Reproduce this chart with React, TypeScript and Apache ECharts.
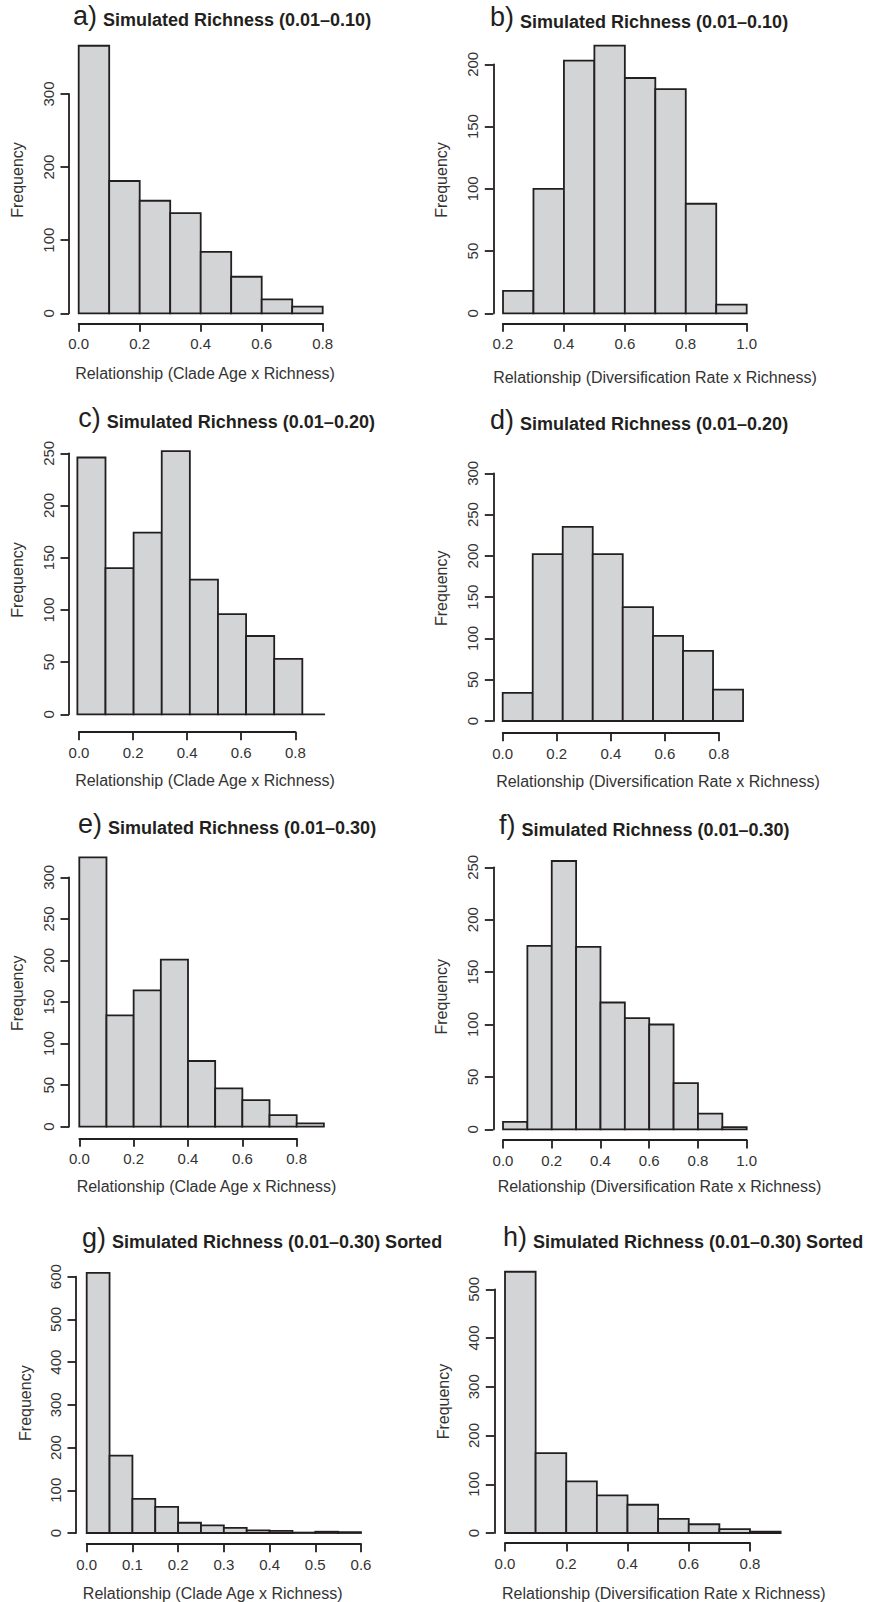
import React, { useEffect, useRef } from "react";
import * as echarts from "echarts";

// ---------- DATA (bin edges and counts) ----------
const EDGES_A = [0, 0.1, 0.2, 0.3, 0.4, 0.5, 0.6, 0.7, 0.8];
const COUNTS_A = [366, 181, 154, 137, 84, 50, 19, 9];

const EDGES_B = [0.2, 0.3, 0.4, 0.5, 0.6, 0.7, 0.8, 0.9, 1.0];
const COUNTS_B = [18, 100, 203, 215, 189, 180, 88, 7];

const EDGES_C = [-0.006, 0.098, 0.202, 0.306, 0.41, 0.514, 0.618, 0.722, 0.826, 0.91];
const COUNTS_C = [246, 140, 174, 252, 129, 96, 75, 53, 0];

const EDGES_D = [0, 0.111, 0.222, 0.333, 0.444, 0.556, 0.667, 0.778, 0.889];
const COUNTS_D = [34, 202, 235, 202, 138, 103, 85, 38];

const EDGES_E = [0, 0.1, 0.2, 0.3, 0.4, 0.5, 0.6, 0.7, 0.8, 0.9];
const COUNTS_E = [324, 134, 164, 201, 79, 46, 32, 14, 4];

const EDGES_F = [0, 0.1, 0.2, 0.3, 0.4, 0.5, 0.6, 0.7, 0.8, 0.9, 1.0];
const COUNTS_F = [7, 175, 256, 174, 121, 106, 100, 44, 15, 2];

const EDGES_G = [0, 0.05, 0.1, 0.15, 0.2, 0.25, 0.3, 0.35, 0.4, 0.45, 0.5, 0.55, 0.6];
const COUNTS_G = [609, 181, 80, 61, 24, 18, 12, 6, 5, 1, 3, 2];

const EDGES_H = [0, 0.1, 0.2, 0.3, 0.4, 0.5, 0.6, 0.7, 0.8, 0.9];
const COUNTS_H = [536, 164, 106, 77, 58, 29, 18, 8, 3];

const LETTERS = ["a", "b", "c", "d", "e", "f", "g", "h"];
const TITLES = [
  "Simulated Richness (0.01\u20130.10)",
  "Simulated Richness (0.01\u20130.10)",
  "Simulated Richness (0.01\u20130.20)",
  "Simulated Richness (0.01\u20130.20)",
  "Simulated Richness (0.01\u20130.30)",
  "Simulated Richness (0.01\u20130.30)",
  "Simulated Richness (0.01\u20130.30) Sorted",
  "Simulated Richness (0.01\u20130.30) Sorted",
];
const X_NAME_AGE = "Relationship (Clade Age x Richness)";
const X_NAME_DIV = "Relationship (Diversification Rate x Richness)";
const X_NAMES = [X_NAME_AGE, X_NAME_DIV, X_NAME_AGE, X_NAME_DIV, X_NAME_AGE, X_NAME_DIV, X_NAME_AGE, X_NAME_DIV];
const Y_NAME = "Frequency";

// axis ranges / tick steps
const X_RANGES = [
  [0, 0.8, 0.2], [0.2, 1.0, 0.2], [0, 0.8, 0.2], [0, 0.8, 0.2],
  [0, 0.8, 0.2], [0, 1.0, 0.2], [0, 0.6, 0.1], [0, 0.8, 0.2],
];
const Y_RANGES = [
  [300, 100], [200, 50], [250, 50], [300, 50],
  [300, 50], [250, 50], [600, 100], [500, 100],
];

const EDGES = [EDGES_A, EDGES_B, EDGES_C, EDGES_D, EDGES_E, EDGES_F, EDGES_G, EDGES_H];
const COUNTS = [COUNTS_A, COUNTS_B, COUNTS_C, COUNTS_D, COUNTS_E, COUNTS_F, COUNTS_G, COUNTS_H];

// ---------- LAYOUT (pixels) ----------
type Layout = {
  gL: number; gR: number; gT: number; gB: number;
  yAxisX: number; xAxisY: number;
  xName: [number, number]; yName: [number, number];
  titleL: number; titleBase: number;
};
const LAYOUT: Layout[] = [
  { gL: 78.7, gR: 322.7, gT: 94, gB: 313.3, yAxisX: 69, xAxisY: 323.3, xName: [205, 373], yName: [17, 180], titleL: 73, titleBase: 25 },
  { gL: 503, gR: 746.7, gT: 64.3, gB: 313.3, yAxisX: 493.3, xAxisY: 323.3, xName: [655, 377], yName: [441.7, 180], titleL: 490, titleBase: 26.7 },
  { gL: 79, gR: 295.3, gT: 453.3, gB: 714.3, yAxisX: 69, xAxisY: 731.7, xName: [205, 780], yName: [17, 580], titleL: 78.3, titleBase: 427.3 },
  { gL: 502.7, gR: 719, gT: 473.3, gB: 721, yAxisX: 493.3, xAxisY: 732.7, xName: [658, 781.7], yName: [441.7, 588.3], titleL: 490, titleBase: 429.3 },
  { gL: 79.3, gR: 296.7, gT: 877.3, gB: 1126.7, yAxisX: 69, xAxisY: 1138.3, xName: [206.5, 1186.7], yName: [17, 993.3], titleL: 78, titleBase: 833.3 },
  { gL: 503, gR: 746.7, gT: 867.3, gB: 1129.3, yAxisX: 493.3, xAxisY: 1140, xName: [659.5, 1186.7], yName: [441.7, 996.7], titleL: 499, titleBase: 834.7 },
  { gL: 86.7, gR: 361, gT: 1276.7, gB: 1533.3, yAxisX: 76, xAxisY: 1544, xName: [212.7, 1593.3], yName: [25, 1403.3], titleL: 82, titleBase: 1247.3 },
  { gL: 505, gR: 750, gT: 1289.3, gB: 1533.3, yAxisX: 494.3, xAxisY: 1543.3, xName: [663.8, 1593.3], yName: [443.3, 1401.7], titleL: 503, titleBase: 1246.7 },
];

const FONT = "'Liberation Sans', Arial, Helvetica, sans-serif";
const BAR_FILL = "#d3d4d6";
const INK = "#231f20";
const TEXT = "#333333";
const LW = 1.8;
const TICK_FS = 15;
const NAME_FS = 16;

function shiftPadding(shift: number): number[] {
  // shifts text along its reading direction by `shift` pixels
  return shift >= 0 ? [0, 0, 0, 2 * shift] : [0, -2 * shift, 0, 0];
}

function buildOption() {
  const grid: any[] = [];
  const xAxis: any[] = [];
  const yAxis: any[] = [];
  const series: any[] = [];
  const title: any[] = [];

  LAYOUT.forEach((L, i) => {
    const [xMin, xMax, xInt] = X_RANGES[i];
    const [yMax, yInt] = Y_RANGES[i];
    grid.push({ left: L.gL, top: L.gT, width: L.gR - L.gL, height: L.gB - L.gT, containLabel: false });

    const xCenter = (L.gL + L.gR) / 2;
    const yCenter = (L.gT + L.gB) / 2;

    xAxis.push({
      gridIndex: i,
      type: "value",
      min: xMin,
      max: xMax,
      interval: xInt,
      offset: L.xAxisY - L.gB,
      axisLine: { show: true, onZero: false, lineStyle: { color: INK, width: LW } },
      axisTick: { show: true, length: 8.5, lineStyle: { color: INK, width: LW } },
      axisLabel: {
        margin: 13,
        fontSize: TICK_FS,
        fontFamily: FONT,
        color: TEXT,
        showMinLabel: true,
        showMaxLabel: true,
        formatter: (v: number) => v.toFixed(1),
      },
      splitLine: { show: false },
      name: X_NAMES[i],
      nameLocation: "middle",
      nameGap: L.xName[1] - L.xAxisY - NAME_FS / 2,
      nameTextStyle: {
        fontSize: NAME_FS,
        fontFamily: FONT,
        color: TEXT,
        padding: shiftPadding(L.xName[0] - xCenter),
      },
    });

    yAxis.push({
      gridIndex: i,
      type: "value",
      min: 0,
      max: yMax,
      interval: yInt,
      offset: L.gL - L.yAxisX,
      axisLine: { show: true, onZero: false, lineStyle: { color: INK, width: LW } },
      axisTick: { show: true, length: 8.5, lineStyle: { color: INK, width: LW } },
      axisLabel: {
        rotate: 90,
        margin: 13,
        fontSize: TICK_FS,
        fontFamily: FONT,
        color: TEXT,
        showMinLabel: true,
        showMaxLabel: true,
      },
      splitLine: { show: false },
      name: Y_NAME,
      nameLocation: "middle",
      nameGap: L.yAxisX - L.yName[0] - NAME_FS / 2,
      nameTextStyle: {
        fontSize: NAME_FS,
        fontFamily: FONT,
        color: TEXT,
        padding: shiftPadding(yCenter - L.yName[1]),
      },
    });

    const edges = EDGES[i];
    const counts = COUNTS[i];
    const data = counts.map((c, k) => [edges[k], edges[k + 1], c]);

    series.push({
      type: "custom",
      xAxisIndex: i,
      yAxisIndex: i,
      clip: false,
      encode: { x: [0, 1], y: 2 },
      data,
      renderItem: (params: any, api: any) => {
        const x0 = api.value(0);
        const x1 = api.value(1);
        const c = api.value(2);
        const bl = api.coord([x0, 0]);
        const tr = api.coord([x1, c]);
        return {
          type: "polygon",
          shape: {
            points: [
              [bl[0], bl[1]],
              [tr[0], bl[1]],
              [tr[0], tr[1]],
              [bl[0], tr[1]],
            ],
          },
          style: { fill: BAR_FILL, stroke: INK, lineWidth: LW, lineJoin: "miter" },
        };
      },
    });

    title.push({
      left: L.titleL,
      top: L.titleBase - 22,
      padding: 0,
      text: `{l|${LETTERS[i]})}{b| ${TITLES[i]}}`,
      textStyle: {
        rich: {
          l: { fontSize: 27, fontFamily: FONT, color: INK, fontWeight: "normal", lineHeight: 26, verticalAlign: "bottom", padding: [0, 1, 0, 0] },
          b: { fontSize: 18, fontFamily: FONT, color: INK, fontWeight: "bold", lineHeight: 26, verticalAlign: "bottom" },
        },
      },
    });
  });

  return {
    animation: false,
    backgroundColor: "#ffffff",
    textStyle: { fontFamily: FONT },
    title,
    grid,
    xAxis,
    yAxis,
    series,
  };
}

export default function App() {
  const ref = useRef<HTMLDivElement>(null);
  useEffect(() => {
    document.body.style.margin = "0";
    if (!ref.current) return;
    const chart = echarts.init(ref.current, undefined, { renderer: "svg" });
    chart.setOption(buildOption() as any);
    return () => chart.dispose();
  }, []);
  return <div ref={ref} style={{ width: 870, height: 1602 }} />;
}
